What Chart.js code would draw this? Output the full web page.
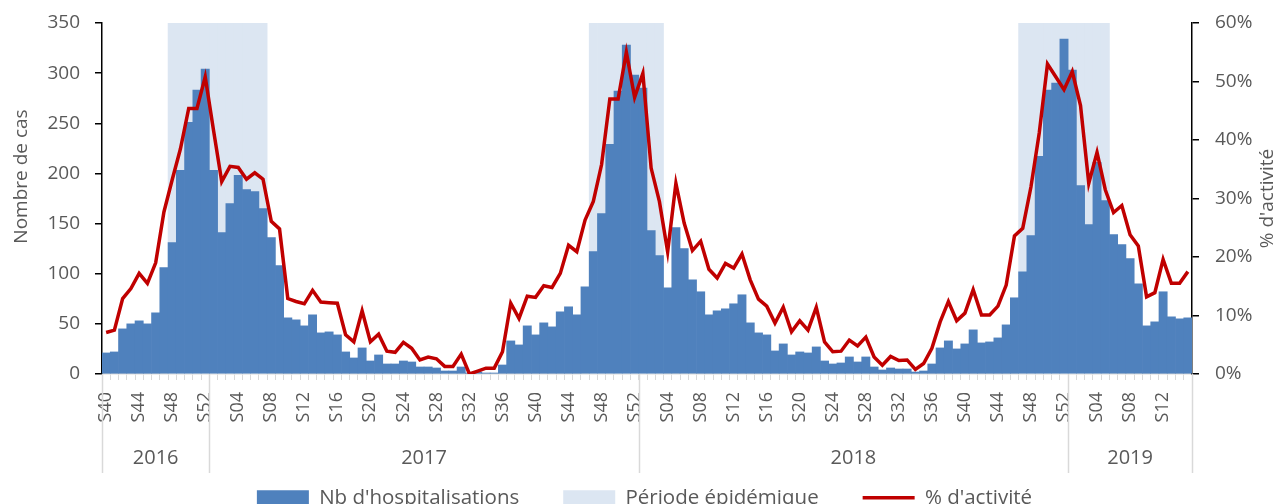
<!DOCTYPE html>
<html lang="fr">
<head>
<meta charset="utf-8">
<title>Hospitalisations et % d'activité</title>
<script src="https://cdn.jsdelivr.net/npm/chart.js@4.4.1/dist/chart.umd.min.js"></script>
<style>
  html, body { margin: 0; padding: 0; overflow: hidden; background: #fff; }
  canvas { display: block; }
</style>
</head>
<body>
<canvas id="chart" width="1277" height="518"></canvas>
<script>
// Weekly hospitalisations + % activity, S40 2016 -> S15 2019

// year, first week, last week
const yearSpans = [
  ['2016', 40, 52],
  ['2017', 1, 52],
  ['2018', 1, 52],
  ['2019', 1, 15]
];

// Nb d'hospitalisations
const hospit2016 = [21, 22, 45, 50, 53, 50, 61, 106, 131, 203, 251, 283, 304];
const hospit2017 = [203, 141, 170, 198, 184, 182, 165, 136, 108, 56, 54, 48, 59,
  41, 42, 39, 22, 16, 26, 13, 19, 10, 10, 13, 12, 7, 7, 6, 3, 3, 7, 1, 2, 1, 1, 9,
  33, 29, 48, 39, 51, 47, 62, 67, 59, 87, 122, 160, 229, 282, 328, 298];
const hospit2018 = [285, 143, 118, 86, 146, 125, 94, 82, 59, 63, 65, 70, 79,
  51, 41, 39, 23, 30, 19, 22, 21, 27, 13, 10, 11, 17, 12, 17, 7, 4, 6, 5, 5, 2, 3, 10,
  26, 33, 25, 30, 44, 31, 32, 36, 49, 76, 102, 138, 217, 283, 290, 334];
const hospit2019 = [303, 188, 149, 211, 173, 139, 129, 115, 90, 48, 52, 82, 57, 55, 56];

// % d'activité
const activite2016 = [7.1, 7.5, 12.9, 14.6, 17.2, 15.5, 19.0, 27.7, 33.2, 38.5, 45.4, 45.4, 50.8];
const activite2017 = [41.7, 32.9, 35.5, 35.3, 33.3, 34.4, 33.3, 26.1, 24.8, 12.9, 12.4, 12.0, 14.3,
  12.3, 12.2, 12.1, 6.7, 5.5, 10.8, 5.5, 6.8, 3.9, 3.7, 5.4, 4.4, 2.4, 2.9, 2.6, 1.3, 1.3, 3.4,
  0.0, 0.5, 1.0, 1.0, 3.8, 12.1, 9.5, 13.3, 13.1, 15.1, 14.8, 17.2, 22.0, 20.9, 26.3, 29.5,
  35.8, 47.0, 47.0, 55.0, 47.3];
const activite2018 = [51.4, 35.2, 29.5, 20.9, 32.6, 25.8, 21.1, 22.7, 17.9, 16.4, 18.9, 18.1, 20.5,
  16.1, 12.8, 11.6, 8.7, 11.4, 7.2, 9.1, 7.5, 11.4, 5.5, 3.8, 3.9, 5.8, 4.8, 6.3, 2.9, 1.5, 3.0,
  2.3, 2.4, 0.8, 1.8, 4.4, 8.9, 12.4, 9.1, 10.4, 14.4, 10.1, 10.1, 11.6, 15.2, 23.6, 24.9,
  32.0, 41.2, 53.0, 50.8, 48.6];
const activite2019 = [51.7, 45.9, 32.6, 37.9, 31.5, 27.6, 28.8, 23.8, 21.9, 13.2, 13.9, 19.6, 15.5, 15.5, 17.5];

// Période épidémique (first week, last week)
const epidemicPeriods = [
  ['2016-S48', '2017-S07'],
  ['2017-S47', '2018-S03'],
  ['2018-S47', '2019-S05']
];

const yMax = 350;
const y1Max = 60;

const textColor = '#595959';
const fontFamily = "'Open Sans', sans-serif";

// build categories
const weekLabels = [];
const weekKeys = [];
yearSpans.forEach(([yr, from, to]) => {
  for (let w = from; w <= to; w++) {
    const lbl = 'S' + String(w).padStart(2, '0');
    weekLabels.push(lbl);
    weekKeys.push(yr + '-' + lbl);
  }
});

const hospitalisations = [...hospit2016, ...hospit2017, ...hospit2018, ...hospit2019];
const activite = [...activite2016, ...activite2017, ...activite2018, ...activite2019];

const epidemicData = weekKeys.map((key, i) => {
  const inside = epidemicPeriods.some(([a, b]) => i >= weekKeys.indexOf(a) && i <= weekKeys.indexOf(b));
  return inside ? yMax : null;
});

// year row under the week labels + rotated axis titles
const yearAxisPlugin = {
  id: 'yearAxis',
  afterDraw(chart) {
    const { ctx, chartArea, scales } = chart;
    const x = scales.x;
    const step = x.width / weekLabels.length;
    const top = chartArea.bottom;
    const bottom = top + 99;

    ctx.save();
    ctx.strokeStyle = '#d9d9d9';
    ctx.lineWidth = 1.5;
    ctx.fillStyle = textColor;
    ctx.font = '20px ' + fontFamily;
    ctx.textAlign = 'center';
    ctx.textBaseline = 'middle';

    let start = 0;
    const edges = [x.left];
    yearSpans.forEach(([yr, from, to]) => {
      const n = to - from + 1;
      const x0 = x.left + start * step;
      const x1 = x.left + (start + n) * step;
      edges.push(x1);
      ctx.fillText(yr, (x0 + x1) / 2, top + 84);
      start += n;
    });
    edges.forEach(px => {
      ctx.beginPath();
      ctx.moveTo(Math.round(px) + 0.5, top);
      ctx.lineTo(Math.round(px) + 0.5, bottom);
      ctx.stroke();
    });

    // axis titles
    const midY = (chartArea.top + chartArea.bottom) / 2;
    ctx.font = '19px ' + fontFamily;
    ctx.save();
    ctx.translate(22, midY - 22);
    ctx.rotate(-Math.PI / 2);
    ctx.fillText('Nombre de cas', 0, 0);
    ctx.restore();
    ctx.save();
    ctx.translate(chart.width - 9, midY);
    ctx.rotate(-Math.PI / 2);
    ctx.fillText("% d'activité", 0, 0);
    ctx.restore();

    ctx.restore();
  }
};

// fixed axis widths, no extra top/bottom padding from tick labels
const fixWidth = w => scale => {
  scale.width = w;
  scale.paddingTop = 0;
  scale.paddingBottom = 0;
};

Chart.defaults.font.family = fontFamily;
Chart.defaults.color = textColor;

new Chart(document.getElementById('chart'), {
  type: 'bar',
  data: {
    labels: weekLabels,
    datasets: [
      {
        type: 'bar',
        label: "Nb d'hospitalisations",
        data: hospitalisations,
        backgroundColor: '#4f81bd',
        borderWidth: 0,
        barPercentage: 1,
        categoryPercentage: 1,
        grouped: false,
        pointStyle: 'rect',
        yAxisID: 'y',
        order: 2
      },
      {
        type: 'bar',
        label: 'Période épidémique',
        data: epidemicData,
        backgroundColor: '#dce6f2',
        borderWidth: 0,
        barPercentage: 1,
        categoryPercentage: 1,
        grouped: false,
        pointStyle: 'rect',
        yAxisID: 'y',
        order: 3
      },
      {
        type: 'line',
        label: "% d'activité",
        data: activite,
        borderColor: '#c00000',
        backgroundColor: '#c00000',
        borderWidth: 3.5,
        pointRadius: 0,
        pointStyle: 'line',
        tension: 0,
        yAxisID: 'y1',
        order: 1
      }
    ]
  },
  options: {
    responsive: false,
    animation: false,
    layout: { padding: { top: 23, left: 12, right: 0, bottom: 0 } },
    plugins: {
      legend: {
        position: 'bottom',
        labels: {
          usePointStyle: true,
          pointStyleWidth: 52,
          boxWidth: 52,
          boxHeight: 15,
          padding: 44,
          color: textColor,
          font: { size: 20.5 },
          sort: (a, b) => a.datasetIndex - b.datasetIndex
        }
      },
      tooltip: { enabled: false }
    },
    scales: {
      x: {
        afterFit: scale => { scale.height = 69.5; },
        grid: {
          drawOnChartArea: false,
          drawTicks: true,
          tickLength: 6,
          color: '#d9d9d9',
          offset: true
        },
        border: { color: '#d9d9d9', width: 1.5 },
        ticks: {
          autoSkip: false,
          minRotation: 90,
          maxRotation: 90,
          padding: 12,
          color: textColor,
          font: { size: 18 },
          callback: function (val, idx) {
            return idx % 4 === 0 ? this.getLabelForValue(val) : '';
          }
        }
      },
      y: {
        position: 'left',
        min: 0,
        max: yMax,
        afterFit: fixWidth(90),
        grid: { drawOnChartArea: false, drawTicks: true, tickLength: 7, color: '#000', lineWidth: 1.5 },
        border: { color: '#000', width: 1.5 },
        ticks: { stepSize: 50, padding: 15, color: textColor, font: { size: 19 } }
      },
      y1: {
        position: 'right',
        min: 0,
        max: y1Max,
        afterFit: fixWidth(85),
        grid: { drawOnChartArea: false, drawTicks: true, tickLength: 7, color: '#000', lineWidth: 1.5 },
        border: { color: '#000', width: 1.5 },
        ticks: {
          stepSize: 10,
          padding: 16,
          color: textColor,
          font: { size: 19 },
          callback: v => v + '%'
        }
      }
    }
  },
  plugins: [yearAxisPlugin]
});
</script>
</body>
</html>
